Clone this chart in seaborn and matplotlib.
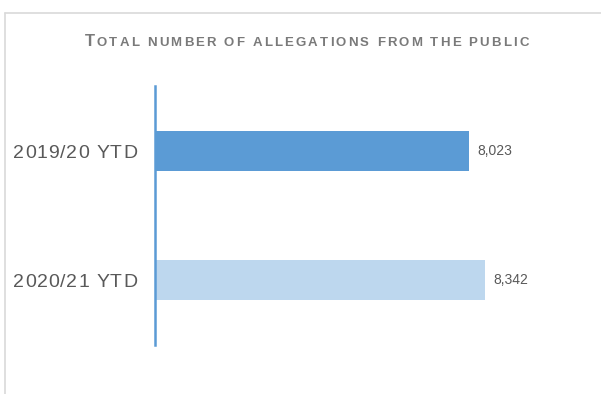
import matplotlib
matplotlib.use("Agg")
import matplotlib.pyplot as plt
from matplotlib.font_manager import FontProperties
from matplotlib.lines import Line2D
import seaborn as sns
import pandas as pd

# Data
periods = ["2019/20 YTD", "2020/21 YTD"]
allegations = [8023, 8342]
bar_colors = ["#5b9bd5", "#bdd7ee"]
title_text = "Total number of allegations from the public"

W, H, DPI = 601, 394, 100

sns.set_theme(style="white")
plt.rcParams["font.family"] = ["Liberation Sans", "DejaVu Sans"]

fig = plt.figure(figsize=(W / DPI, H / DPI), dpi=DPI)
fig.patch.set_facecolor("white")

ax = fig.add_axes([154.5 / W, 1 - 345 / H, (572 - 154.5) / W, (345 - 86) / H])

df = pd.DataFrame({"period": periods, "count": allegations})
sns.barplot(data=df, x="count", y="period", hue="period", palette=bar_colors,
            saturation=1, legend=False, orient="h", width=0.31, linewidth=0, ax=ax)

ax.set_xlim(2000, 10000)
ax.set_ylim(1.5, -0.5)
ax.set_xlabel("")
ax.set_ylabel("")
ax.set_xticks([])
ax.tick_params(axis="y", length=0)
ax.set_yticklabels([])
for s in ("top", "right", "bottom"):
    ax.spines[s].set_visible(False)
ax.spines["left"].set_color("#5b9bd5")
ax.spines["left"].set_linewidth(1.8)
ax.set_facecolor("white")

for cont in ax.containers:
    ax.bar_label(cont, labels=[f"{v:,.0f}" for v in cont.datavalues],
                 padding=6, fontsize=10, color="#595959")

# Light frame around the chart area
fig.add_artist(Line2D([5 / W, 1], [1 - 13 / H, 1 - 13 / H], transform=fig.transFigure,
                      color="#d9d9d9", lw=1.2))
fig.add_artist(Line2D([5 / W, 5 / W], [0, 1 - 13 / H], transform=fig.transFigure,
                      color="#d9d9d9", lw=1.2))

renderer = fig.canvas.get_renderer()


def char_width(ch, prop):
    w, _, _ = renderer.get_text_width_height_descent(ch, prop, ismath=False)
    return w


def spaced_text(chars, x_left, y_base, tracking, color):
    """Draw (char, FontProperties) pairs one by one with extra letter spacing."""
    x = x_left
    for c, p in chars:
        fig.text(x / W, 1 - y_base / H, c, fontproperties=p, color=color,
                 ha="left", va="baseline")
        x += char_width(c, p) + tracking


# Small-caps, letter-spaced title
big = FontProperties(family="Liberation Sans", weight="bold", size=12)
small = FontProperties(family="Liberation Sans", weight="bold", size=9.5)
title_chars = [(ch.upper(), big if i == 0 else small) for i, ch in enumerate(title_text)]
widths = [char_width(c, p) for c, p in title_chars]
target_w = 444.0
tracking = (target_w - sum(widths)) / (len(title_chars) - 1)
spaced_text(title_chars, 306.5 - target_w / 2, 46, tracking, "#7a7a7a")

# Category labels, right-aligned against the axis with letter spacing
lab_prop = FontProperties(family="Liberation Sans", size=14)
for i, label in enumerate(periods):
    chars = [(c, lab_prop) for c in label]
    tr = 0.9
    total = sum(char_width(c, p) for c, p in chars) + tr * (len(chars) - 1)
    y_center_px = H - ax.transData.transform((0, i))[1]
    spaced_text(chars, 137 - total, y_center_px + 7, tr, "#595959")

fig.savefig("out.png", dpi=DPI, facecolor="white")
